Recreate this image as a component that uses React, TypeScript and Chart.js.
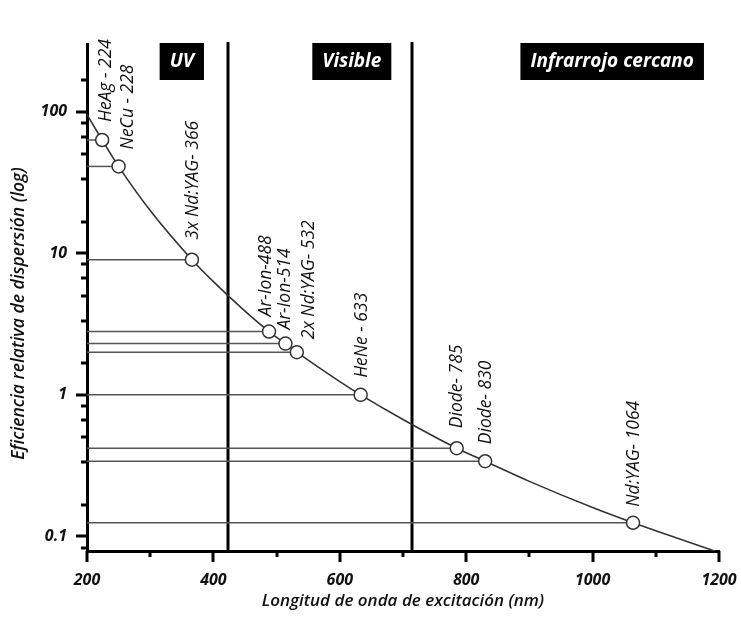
import React, { useEffect, useRef } from 'react';
import { Chart, registerables } from 'chart.js';

Chart.register(...registerables);

// Smooth λ^-4 scattering curve, read at a set of wavelengths (nm)
const curveWavelengths = [200, 224, 250, 300, 366, 400, 450, 488, 514, 532, 600, 633, 700, 785, 830, 900, 1000, 1064, 1100, 1200];
const curveEfficiency = [95, 63, 41, 20, 9, 6.3, 3.9, 2.8, 2.3, 2.0, 1.24, 1.0, 0.67, 0.42, 0.34, 0.245, 0.16, 0.125, 0.11, 0.077];

// Laser excitation lines marked on the curve
const laserNames = [
  'HeAg - 224',
  'NeCu - 228',
  '3x Nd:YAG- 366',
  'Ar-Ion-488',
  'Ar-Ion-514',
  '2x Nd:YAG- 532',
  'HeNe - 633',
  'Diode- 785',
  'Diode- 830',
  'Nd:YAG- 1064',
];
const laserWavelengths = [224, 250, 366, 488, 514, 532, 633, 785, 830, 1064];
const laserEfficiency = [63, 41, 9, 2.8, 2.3, 2.0, 1.0, 0.42, 0.34, 0.125];

// Spectral regions
const regionNames = ['UV', 'Visible', 'Infrarrojo cercano'];
const regionBoundaries = [423, 714];
const regionLabelCenters = [350, 619, 1031];

// Axis ticks
const xTickValues = [200, 400, 600, 800, 1000, 1200];
const xMinorTicks = [300, 500, 700, 900, 1100];
const yTickValues = [0.1, 1, 10, 100];
const yMinorTicks = [0.0833, 0.1667, 0.3333, 0.5, 0.6667, 0.8333, 1.667, 3.333, 5, 6.667, 8.333, 16.67, 33.33, 50, 66.67, 83.33, 166.7];

const FONT = '"Open Sans", Lato, sans-serif';

// Small per-label nudges [dx, dy] so the rotated names don't collide
const labelNudge: [number, number][] = [
  [4, -18], [9, -17], [1, -20], [-3, -15], [0, -14], [12, -13], [1, -17], [0, -20], [1, -17], [1, -16],
];

const decorPlugin = {
  id: 'decor',
  beforeDatasetsDraw(chart: any) {
    const { ctx, chartArea, scales } = chart;
    ctx.save();
    ctx.strokeStyle = '#000';
    ctx.lineWidth = 3;
    regionBoundaries.forEach((b) => {
      const x = Math.round(scales.x.getPixelForValue(b));
      ctx.beginPath();
      ctx.moveTo(x, chartArea.top - 2);
      ctx.lineTo(x, chartArea.bottom);
      ctx.stroke();
    });
    ctx.restore();
  },
  afterDraw(chart: any) {
    const { ctx, chartArea, scales } = chart;
    const xs = scales.x;
    const ys = scales.y;
    ctx.save();

    // tick marks (major long, minor short)
    ctx.strokeStyle = '#000';
    ctx.lineWidth = 3;
    const drawX = (v: number, len: number) => {
      const x = Math.round(xs.getPixelForValue(v));
      ctx.beginPath();
      ctx.moveTo(x, chartArea.bottom);
      ctx.lineTo(x, chartArea.bottom + len);
      ctx.stroke();
    };
    const drawY = (v: number, len: number) => {
      const y = Math.round(ys.getPixelForValue(v));
      ctx.beginPath();
      ctx.moveTo(chartArea.left, y);
      ctx.lineTo(chartArea.left - len, y);
      ctx.stroke();
    };
    xTickValues.forEach((v) => drawX(v, 11));
    xMinorTicks.forEach((v) => drawX(v, 6));
    yTickValues.forEach((v) => drawY(v, 11));
    yMinorTicks.forEach((v) => drawY(v, 6));

    // laser names, rotated
    ctx.fillStyle = '#111';
    ctx.font = `italic 17.5px ${FONT}`;
    ctx.textAlign = 'left';
    ctx.textBaseline = 'middle';
    laserNames.forEach((name, i) => {
      const px = xs.getPixelForValue(laserWavelengths[i]);
      const py = ys.getPixelForValue(laserEfficiency[i]);
      const [dx, dy] = labelNudge[i];
      ctx.save();
      ctx.translate(px + dx, py + dy);
      ctx.rotate(-Math.PI / 2);
      ctx.fillText(name, 0, 0);
      ctx.restore();
    });

    // region boxes
    ctx.font = `italic bold 19px ${FONT}`;
    ctx.textAlign = 'center';
    ctx.textBaseline = 'middle';
    regionNames.forEach((name, i) => {
      const cx = xs.getPixelForValue(regionLabelCenters[i]);
      const w = ctx.measureText(name).width + 20;
      const top = chartArea.top - 1;
      const h = 37;
      ctx.fillStyle = '#000';
      ctx.fillRect(cx - w / 2, top, w, h);
      ctx.fillStyle = '#fff';
      ctx.fillText(name, cx, top + h / 2);
    });

    // y axis title
    ctx.fillStyle = '#111';
    ctx.font = `italic 600 17.5px ${FONT}`;
    ctx.textAlign = 'center';
    ctx.save();
    ctx.translate(19, (chartArea.top + chartArea.bottom) / 2 + 16);
    ctx.rotate(-Math.PI / 2);
    ctx.fillText('Eficiencia relativa de dispersión (log)', 0, 0);
    ctx.restore();

    ctx.restore();
  },
};

export default function App() {
  const canvasRef = useRef<HTMLCanvasElement | null>(null);

  useEffect(() => {
    if (!canvasRef.current) return;

    const hLines = laserWavelengths.map((w, i) => ({
      type: 'line' as const,
      data: [
        { x: 200, y: laserEfficiency[i] },
        { x: w, y: laserEfficiency[i] },
      ],
      borderColor: '#555',
      borderWidth: 1.5,
      pointRadius: 0,
      fill: false,
      order: 2,
    }));

    const chart = new Chart(canvasRef.current, {
      type: 'line',
      data: {
        datasets: [
          {
            type: 'line',
            data: laserWavelengths.map((w, i) => ({ x: w, y: laserEfficiency[i] })),
            showLine: false,
            pointRadius: 6.5,
            pointBackgroundColor: '#fff',
            pointBorderColor: '#333',
            pointBorderWidth: 1.5,
            order: 0,
          },
          {
            type: 'line',
            data: curveWavelengths.map((w, i) => ({ x: w, y: curveEfficiency[i] })),
            borderColor: '#333',
            borderWidth: 1.6,
            pointRadius: 0,
            cubicInterpolationMode: 'monotone',
            fill: false,
            order: 1,
          },
          ...hLines,
        ] as any,
      },
      options: {
        animation: false,
        responsive: false,
        devicePixelRatio: 1,
        layout: { padding: { left: 0, top: 44, right: 22, bottom: 0 } },
        plugins: {
          legend: { display: false },
          tooltip: { enabled: false },
        },
        scales: {
          x: {
            type: 'linear',
            min: 200,
            max: 1200,
            afterBuildTicks: (scale: any) => {
              scale.ticks = xTickValues.map((v) => ({ value: v }));
            },
            afterFit: (scale: any) => {
              scale.height = 66;
              scale.paddingLeft = 0;
              scale.paddingRight = 0;
            },
            grid: { display: true, drawOnChartArea: false, drawTicks: false },
            border: { display: true, color: '#000', width: 3 },
            ticks: {
              padding: 20,
              color: '#111',
              font: { family: FONT, size: 16, style: 'italic', weight: 'bold' },
              maxRotation: 0,
              callback: (v: any) => String(v),
            },
            title: {
              display: true,
              text: 'Longitud de onda de excitación (nm)',
              color: '#111',
              font: { family: FONT, size: 17, style: 'italic', weight: '600' },
              padding: { top: 0, bottom: 6 },
            },
          },
          y: {
            type: 'logarithmic',
            min: 0.079,
            max: 300,
            afterBuildTicks: (scale: any) => {
              scale.ticks = yTickValues.map((v) => ({ value: v }));
            },
            afterFit: (scale: any) => {
              scale.width = 87;
              scale.paddingTop = 0;
              scale.paddingBottom = 0;
            },
            grid: { display: true, drawOnChartArea: false, drawTicks: false },
            border: { display: true, color: '#000', width: 3 },
            ticks: {
              padding: 20,
              color: '#111',
              font: { family: FONT, size: 16, style: 'italic', weight: 'bold' },
              callback: (v: any) => String(v),
            },
          },
        },
      },
      plugins: [decorPlugin],
    });

    return () => chart.destroy();
  }, []);

  return (
    <div style={{ position: 'absolute', left: 0, top: 0, width: 741, height: 617, background: '#fff' }}>
      <canvas ref={canvasRef} width={741} height={617} />
    </div>
  );
}
